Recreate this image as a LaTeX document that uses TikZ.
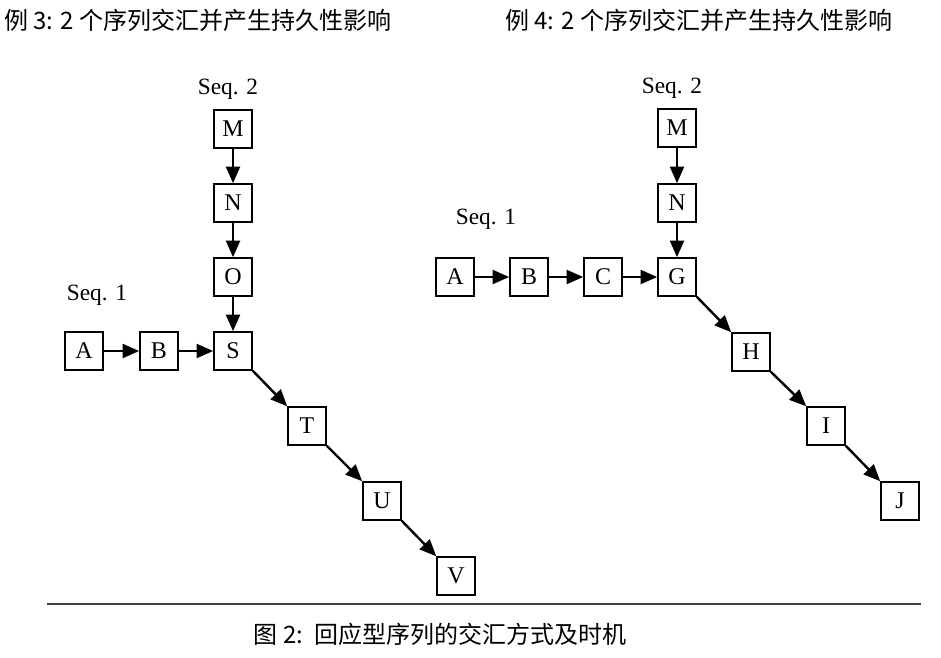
\documentclass[tikz,border=0pt]{standalone}
\usepackage{fontspec}
\setmainfont{Liberation Serif}
\newfontfamily\cjk{Noto Sans CJK SC}
\usetikzlibrary{arrows.meta}
\tikzset{
  box/.style={draw, line width=1.7pt, minimum size=28pt, inner sep=0pt, font=\fontsize{18}{20}\selectfont},
  seqlabel/.style={inner sep=0pt, font=\fontsize{17.5}{19}\selectfont},
  arr/.style={line width=1.8pt, -{Triangle[length=12.5pt,width=10.5pt]}},
  title/.style={inner sep=0pt, anchor=west, font=\cjk\fontsize{18}{20}\selectfont},
}
\begin{document}
\begin{tikzpicture}[x=0.75pt,y=-0.75pt]
\useasboundingbox (0,0) rectangle (941,657);
% titles
\node[title] (t1) at (4,20) {例 3: 2 个序列交汇并产生持久性影响};
\node[title] (t2) at (505,20) {例 4: 2 个序列交汇并产生持久性影响};
% left diagram
\node[box] (A1) at (84,351) {A};
\node[box] (B1) at (159,351) {B};
\node[box] (S1) at (233,351) {S};
\node[box] (O1) at (233,277) {O};
\node[box] (N1) at (233,203) {N};
\node[box] (M1) at (233,129) {M};
\node[box] (T1) at (307,426) {T};
\node[box] (U1) at (382,501) {U};
\node[box] (V1) at (456,576) {V};
\node[seqlabel] (q11) at (97,295) {Seq. 1};
\node[seqlabel] (q12) at (228,89) {Seq. 2};
\draw[arr] (A1) -- (B1);
\draw[arr] (B1) -- (S1);
\draw[arr] (M1) -- (N1);
\draw[arr] (N1) -- (O1);
\draw[arr] (O1) -- (S1);
\draw[arr] (S1.south east) -- (T1.north west);
\draw[arr] (T1.south east) -- (U1.north west);
\draw[arr] (U1.south east) -- (V1.north west);
% right diagram
\node[box] (A2) at (455,277) {A};
\node[box] (B2) at (529,277) {B};
\node[box] (C2) at (603,277) {C};
\node[box] (G2) at (677,277) {G};
\node[box] (N2) at (677,203) {N};
\node[box] (M2) at (677,128) {M};
\node[box] (H2) at (751,352) {H};
\node[box] (I2) at (826,426) {I};
\node[box] (J2) at (900,501) {J};
\node[seqlabel] (q21) at (486,219) {Seq. 1};
\node[seqlabel] (q22) at (672,88) {Seq. 2};
\draw[arr] (A2) -- (B2);
\draw[arr] (B2) -- (C2);
\draw[arr] (C2) -- (G2);
\draw[arr] (M2) -- (N2);
\draw[arr] (N2) -- (G2);
\draw[arr] (G2.south east) -- (H2.north west);
\draw[arr] (H2.south east) -- (I2.north west);
\draw[arr] (I2.south east) -- (J2.north west);
% rule and caption
\coordinate (r1) at (47,604);
\coordinate (r2) at (921,604);
\draw[line width=1pt, black!75] (r1) -- (r2);
\node[inner sep=0pt, font=\cjk\fontsize{18}{20}\selectfont] (cap) at (440,634) {图 2:\ \ 回应型序列的交汇方式及时机};
\end{tikzpicture}
\end{document}
